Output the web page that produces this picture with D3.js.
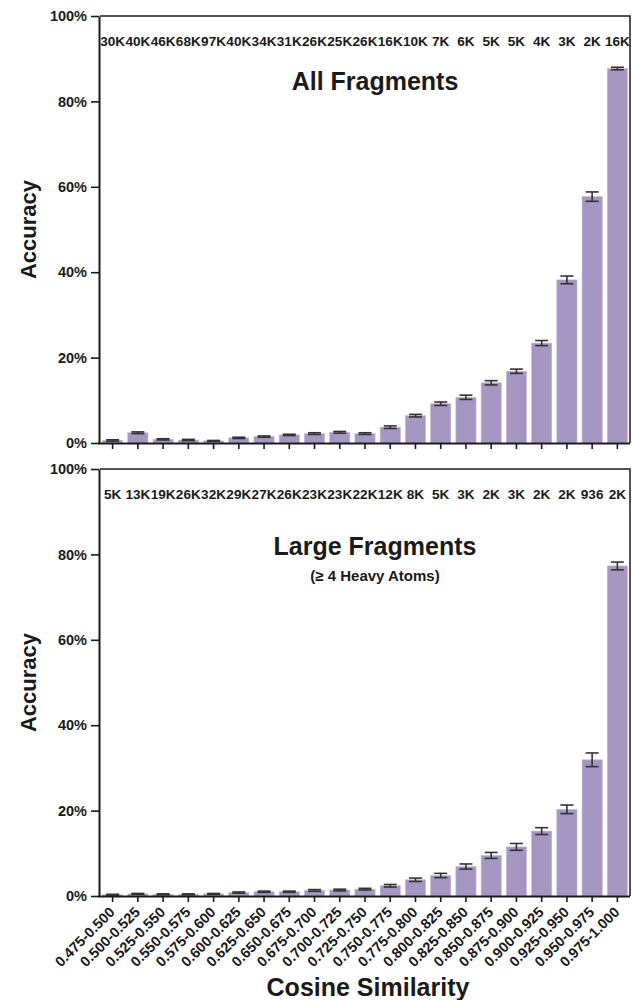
<!DOCTYPE html>
<html>
<head>
<meta charset="utf-8">
<script src="https://cdn.jsdelivr.net/npm/d3@7"></script>
<style>
  body { margin: 0; background: #fff; }
  svg { display: block; font-family: "Liberation Sans", Arial, sans-serif; font-weight: bold; }
</style>
</head>
<body>
<svg id="chart" width="632" height="1000"></svg>
<script>
const bins = ['0.475-0.500', '0.500-0.525', '0.525-0.550', '0.550-0.575', '0.575-0.600',
  '0.600-0.625', '0.625-0.650', '0.650-0.675', '0.675-0.700', '0.700-0.725', '0.725-0.750',
  '0.750-0.775', '0.775-0.800', '0.800-0.825', '0.825-0.850', '0.850-0.875', '0.875-0.900',
  '0.900-0.925', '0.925-0.950', '0.950-0.975', '0.975-1.000'];

// accuracy (%) and error half-width (%)
const allAcc = [0.6, 2.4, 0.85, 0.7, 0.5, 1.2, 1.5, 1.9, 2.2, 2.5, 2.2, 3.7, 6.4, 9.2, 10.7, 14.1, 16.8, 23.4, 38.2, 57.7, 87.7];
const allErr = [0.15, 0.2, 0.15, 0.15, 0.1, 0.15, 0.15, 0.15, 0.2, 0.2, 0.2, 0.3, 0.3, 0.4, 0.5, 0.5, 0.5, 0.6, 0.9, 1.1, 0.3];
const allCounts = ['30K', '40K', '46K', '68K', '97K', '40K', '34K', '31K', '26K', '25K', '26K', '16K', '10K', '7K', '6K', '5K', '5K', '4K', '3K', '2K', '16K'];

const largeAcc = [0.3, 0.5, 0.4, 0.4, 0.5, 0.8, 1.0, 1.0, 1.3, 1.4, 1.6, 2.4, 3.8, 4.8, 6.9, 9.5, 11.5, 15.2, 20.3, 31.9, 77.3];
const largeErr = [0.1, 0.1, 0.1, 0.1, 0.1, 0.15, 0.15, 0.15, 0.2, 0.2, 0.2, 0.3, 0.4, 0.5, 0.6, 0.7, 0.8, 0.8, 1.0, 1.6, 0.9];
const largeCounts = ['5K', '13K', '19K', '26K', '32K', '29K', '27K', '26K', '23K', '23K', '22K', '12K', '8K', '5K', '3K', '2K', '3K', '2K', '2K', '936', '2K'];

const yTicks = [0, 20, 40, 60, 80, 100];

const barColor = '#a597c1';
const ink = '#1a1a1a';
const font = '"Liberation Sans", Arial, sans-serif';

const svg = d3.select('#chart');

const x = d3.scaleBand()
  .domain(bins)
  .range([100, 630])
  .paddingInner(0.2)
  .paddingOuter(0.1);

function drawPanel(top, bottom, acc, err, counts, title, subtitle, showLabels) {
  const y = d3.scaleLinear().domain([0, 100]).range([bottom, top]);
  const g = svg.append('g');

  // frame top + right
  g.append('path')
    .attr('d', `M100,${top}H630V${bottom}`)
    .attr('fill', 'none')
    .attr('stroke', ink)
    .attr('stroke-width', 1.5);

  // bars
  g.selectAll('rect.bar')
    .data(acc)
    .enter()
    .append('rect')
    .attr('class', 'bar')
    .attr('x', (d, i) => x(bins[i]))
    .attr('width', x.bandwidth())
    .attr('y', d => y(d))
    .attr('height', d => y(0) - y(d))
    .attr('fill', barColor)
    .attr('stroke', '#c4b9d8')
    .attr('stroke-width', 0.6);

  // error bars
  const cx = i => x(bins[i]) + x.bandwidth() / 2;
  const eb = g.selectAll('g.err')
    .data(acc)
    .enter()
    .append('g')
    .attr('class', 'err')
    .attr('stroke', '#333')
    .attr('stroke-width', 1.6);
  eb.append('line')
    .attr('x1', (d, i) => cx(i)).attr('x2', (d, i) => cx(i))
    .attr('y1', (d, i) => y(d + err[i])).attr('y2', (d, i) => y(d - err[i]));
  eb.append('line')
    .attr('x1', (d, i) => cx(i) - 6.5).attr('x2', (d, i) => cx(i) + 6.5)
    .attr('y1', (d, i) => y(d + err[i])).attr('y2', (d, i) => y(d + err[i]));
  eb.append('line')
    .attr('x1', (d, i) => cx(i) - 6.5).attr('x2', (d, i) => cx(i) + 6.5)
    .attr('y1', (d, i) => y(d - err[i])).attr('y2', (d, i) => y(d - err[i]));

  // count labels
  g.selectAll('text.count')
    .data(counts)
    .enter()
    .append('text')
    .attr('class', 'count')
    .attr('x', (d, i) => cx(i))
    .attr('y', top + 30)
    .attr('text-anchor', 'middle')
    .attr('font-size', 13.6)
    .attr('fill', ink)
    .text(d => d);

  // y axis
  const yAxis = g.append('g')
    .attr('transform', 'translate(99,0)')
    .call(d3.axisLeft(y).tickValues(yTicks).tickFormat(d => d + '%').tickSize(8).tickSizeOuter(0));
  yAxis.select('.domain').attr('stroke', ink).attr('stroke-width', 2);
  yAxis.selectAll('.tick line').attr('stroke', ink).attr('stroke-width', 1.6);
  yAxis.selectAll('.tick text')
    .attr('font-size', 14.5)
    .attr('font-weight', 'bold')
    .attr('font-family', font)
    .attr('fill', ink)
    .attr('x', -12);

  // x axis
  const xAxis = g.append('g')
    .attr('transform', `translate(0,${bottom})`)
    .call(d3.axisBottom(x).tickSize(6).tickSizeOuter(0));
  xAxis.select('.domain').attr('stroke', ink).attr('stroke-width', 2)
    .attr('d', 'M98,0.5H630');
  xAxis.selectAll('.tick line').attr('stroke', ink).attr('stroke-width', 1.6);
  if (showLabels) {
    xAxis.selectAll('.tick text')
      .attr('font-size', 14.5)
      .attr('font-weight', 'bold')
      .attr('font-family', font)
      .attr('fill', ink)
      .attr('text-anchor', 'end')
      .attr('dy', null)
      .attr('y', 0)
      .attr('transform', 'translate(3,17) rotate(-45)');
  } else {
    xAxis.selectAll('.tick text').remove();
  }

  // titles
  g.append('text')
    .attr('x', 375).attr('y', top + (subtitle ? 86 : 74))
    .attr('text-anchor', 'middle')
    .attr('font-size', 25)
    .attr('fill', ink)
    .text(title);
  if (subtitle) {
    g.append('text')
      .attr('x', 375).attr('y', top + 112)
      .attr('text-anchor', 'middle')
      .attr('font-size', 15)
      .attr('fill', ink)
      .text(subtitle);
  }

  // y title
  g.append('text')
    .attr('transform', `translate(36,${(top + bottom) / 2}) rotate(-90)`)
    .attr('text-anchor', 'middle')
    .attr('font-size', 22)
    .attr('fill', ink)
    .text('Accuracy');
}

drawPanel(16, 443, allAcc, allErr, allCounts, 'All Fragments', null, false);
drawPanel(469, 896, largeAcc, largeErr, largeCounts, 'Large Fragments', '(≥ 4 Heavy Atoms)', true);

svg.append('text')
  .attr('x', 368).attr('y', 996)
  .attr('text-anchor', 'middle')
  .attr('font-size', 25)
  .attr('fill', ink)
  .text('Cosine Similarity');
</script>
</body>
</html>
